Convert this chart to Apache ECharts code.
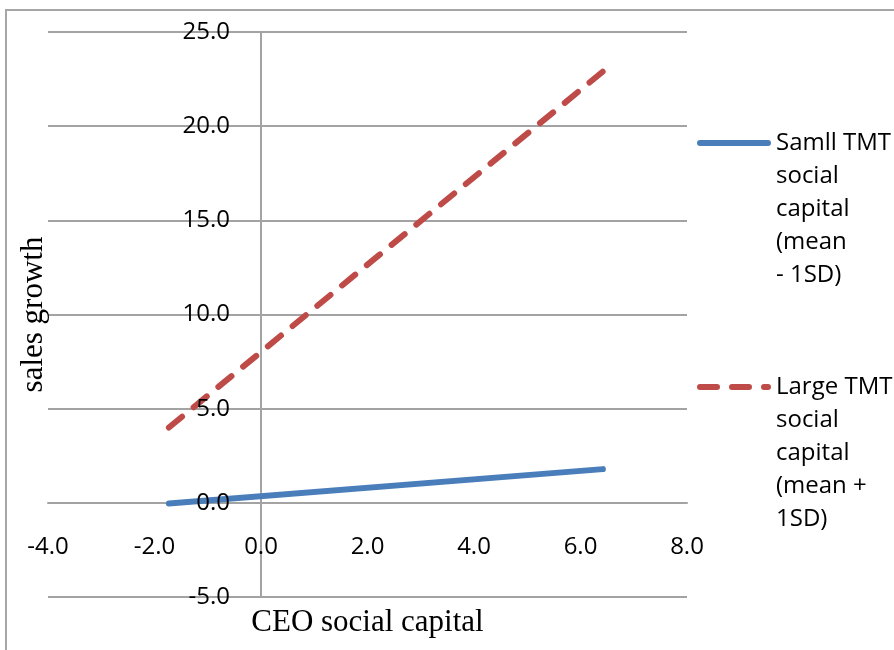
<!DOCTYPE html>
<html>
<head>
<meta charset="utf-8">
<style>
  html, body { margin: 0; padding: 0; background: #ffffff; }
  #chart { width: 894px; height: 650px; }
</style>
<script src="https://cdn.jsdelivr.net/npm/echarts@6/dist/echarts.min.js"></script>
</head>
<body>
<div id="chart"></div>
<script>
// CEO social capital at the two plotted levels (mean - 1SD, mean + 1SD)
const ceoSocialCapital = [-1.73, 6.42];
// Predicted sales growth for each TMT social capital level
const smallTmtGrowth = [-0.04, 1.79];
const largeTmtGrowth = [4.0, 22.9];

const seriesNames = [
  'Samll TMT\nsocial\ncapital\n(mean\n- 1SD)',
  'Large TMT\nsocial\ncapital\n(mean +\n1SD)'
];

const xTicks = { min: -4, max: 8, interval: 2 };
const yTicks = { min: -5, max: 25, interval: 5 };

const gridColor = '#a3a3a3';
const labelFont = '"Open Sans", "Liberation Sans", sans-serif';
const titleFont = '"Liberation Serif", "Times New Roman", serif';

const toPairs = (xs, ys) => xs.map((x, i) => [x, ys[i]]);

// legend swatches: a solid rounded bar and a dash-dash-dot bar, 74 x 6
const solidSwatch = 'path://M3,0 L71,0 A3,3 0 0 1 71,6 L3,6 A3,3 0 0 1 3,0 Z';
const dashedSwatch = 'path://M3,0 L20,0 A3,3 0 0 1 20,6 L3,6 A3,3 0 0 1 3,0 Z ' +
  'M35,0 L52,0 A3,3 0 0 1 52,6 L35,6 A3,3 0 0 1 35,0 Z ' +
  'M67,0 L71,0 A3,3 0 0 1 71,6 L67,6 A3,3 0 0 1 67,0 Z';
const swatches = [solidSwatch, dashedSwatch];

const chart = echarts.init(document.getElementById('chart'), null, { renderer: 'canvas' });

// blank lines ahead of the legend text keep the swatch level with the first line
const legendLabel = name => '\n\n\n\n' + name;
const fmt = v => v.toFixed(1);

// The axes are split in two: one draws the lines and grid under the series,
// a second one on the same scale draws the tick labels above them.
const xBase = { type: 'value', min: xTicks.min, max: xTicks.max, interval: xTicks.interval };
const yBase = { type: 'value', min: yTicks.min, max: yTicks.max, interval: yTicks.interval };

chart.setOption({
  backgroundColor: '#ffffff',
  animation: false,
  graphic: [{
    type: 'rect',
    shape: { x: 6, y: 10, width: 1000, height: 1000 },
    style: { fill: 'none', stroke: '#a6a6a6', lineWidth: 2 },
    silent: true,
    z: -10
  }],
  grid: { left: 48, right: 207, top: 32, bottom: 53, outerBoundsMode: 'none', containLabel: false },
  legend: [0, 1].map(i => ({
    data: [{ name: seriesNames[i], icon: swatches[i] }],
    orient: 'vertical',
    left: 697,
    top: i === 0 ? -5.5 : 238.5,
    padding: 0,
    itemWidth: 74,
    itemHeight: 6,
    itemGap: 0,
    selectedMode: false,
    formatter: legendLabel,
    textStyle: { fontFamily: labelFont, fontSize: 24, lineHeight: 33, color: '#000', padding: [0, 0, 0, 0] }
  })),
  xAxis: [
    Object.assign({}, xBase, {
      name: 'CEO social capital',
      nameLocation: 'middle',
      nameGap: 10,
      nameTextStyle: { fontFamily: titleFont, fontSize: 31, color: '#000' },
      axisLine: { onZero: true, lineStyle: { color: gridColor, width: 2 } },
      axisTick: { show: false },
      splitLine: { show: false },
      axisLabel: { show: false },
      z: 0
    }),
    Object.assign({}, xBase, {
      position: 'bottom',
      axisLine: { show: false },
      axisTick: { show: false },
      splitLine: { show: false },
      axisLabel: {
        // labels sit just under the zero line, inside the plot area
        margin: -62,
        fontFamily: labelFont, fontSize: 24, color: '#000',
        formatter: fmt
      },
      z: 10
    })
  ],
  yAxis: [
    Object.assign({}, yBase, {
      name: 'sales growth',
      nameLocation: 'middle',
      nameGap: -1,
      nameTextStyle: { fontFamily: titleFont, fontSize: 31, color: '#000' },
      axisLine: { onZero: true, lineStyle: { color: gridColor, width: 2 } },
      axisTick: { show: false },
      splitLine: { show: true, lineStyle: { color: gridColor, width: 2 } },
      axisLabel: { show: false },
      z: 0
    }),
    Object.assign({}, yBase, {
      position: 'left',
      axisLine: { show: false },
      axisTick: { show: false },
      splitLine: { show: false },
      axisLabel: {
        // labels sit just left of the zero line, inside the plot area
        margin: -182,
        fontFamily: labelFont, fontSize: 24, color: '#000',
        formatter: fmt
      },
      z: 10
    })
  ],
  series: [
    {
      name: seriesNames[0],
      type: 'line',
      xAxisIndex: 0,
      yAxisIndex: 0,
      data: toPairs(ceoSocialCapital, smallTmtGrowth),
      symbol: 'none',
      color: '#4a7ebb',
      lineStyle: { color: '#4a7ebb', width: 6, cap: 'round' },
      z: 3
    },
    {
      name: seriesNames[1],
      type: 'line',
      xAxisIndex: 0,
      yAxisIndex: 0,
      data: toPairs(ceoSocialCapital, largeTmtGrowth),
      symbol: 'none',
      color: '#be4b48',
      lineStyle: { color: '#be4b48', width: 6, type: [17, 15], cap: 'round' },
      z: 3
    }
  ]
});
</script>
</body>
</html>
